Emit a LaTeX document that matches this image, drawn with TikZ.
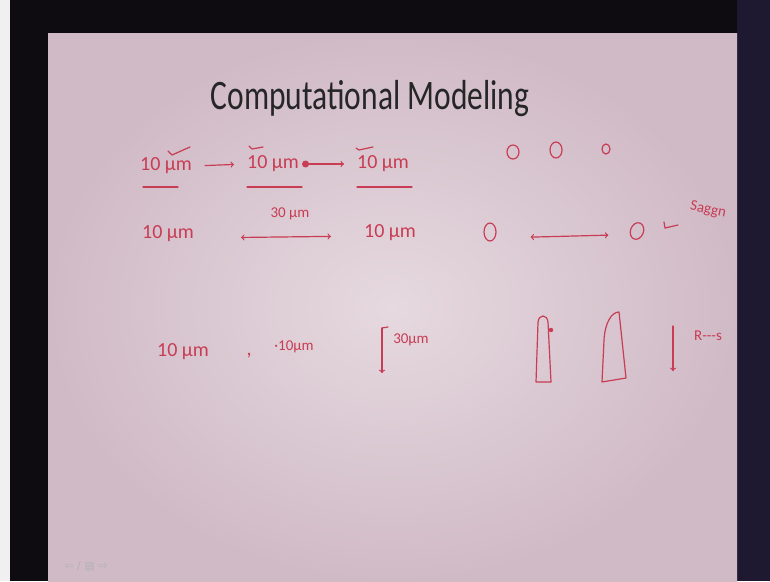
\documentclass[tikz,border=0pt]{standalone}
\usepackage{fontspec}
\setmainfont{Carlito}
\newfontfamily\iconfont{DejaVu Sans}
\usetikzlibrary{arrows,shapes.geometric}
\definecolor{ink}{RGB}{200,60,84}
\definecolor{slide}{RGB}{208,186,198}
\definecolor{slidelight}{RGB}{230,217,223}
\definecolor{frame}{RGB}{14,12,16}
\definecolor{rightedge}{RGB}{30,24,48}
\tikzset{
  hand/.style={text=ink, font=\fontsize{20}{20}\selectfont, inner sep=1pt},
  handsmall/.style={text=ink, font=\fontsize{15}{15}\selectfont, inner sep=1pt},
  pen/.style={draw=ink, line width=1.2pt, line cap=round, line join=round},
  >=to
}
\begin{document}
\begin{tikzpicture}[x=1pt,y=-1pt]
\useasboundingbox (0,0) rectangle (770,581);
% screen and frame
\fill[frame] (0,0) rectangle (770,581);
\fill[white!88!gray] (0,0) rectangle (10,581);
\fill[rightedge] (737,0) rectangle (770,581);
\shade[inner color=slidelight, outer color=slide] (48,33) rectangle (737,581);

\node[text=black!85, xscale=0.75] (title) at (370,99) {\fontsize{42}{42}\selectfont Computational Modeling};

% row 1
\node[hand] (ra) at (166,166) {10 µm};
\node[hand] (rb) at (273,164) {10 µm};
\node[hand] (rc) at (383,164) {10 µm};
\draw[pen,->] (ra.east) -- (rb.west) [shorten <=12pt, shorten >=12pt];
\draw[pen,*->] (rb.east) -- (rc.west) [shorten <=2pt, shorten >=12pt];
\draw[pen] (168,151) -- (172,155) -- (190,147);
\draw[pen] (249,146) -- (252,149) -- (263,147);
\draw[pen] (356,148) -- (359,150) -- (373,147);
\draw[pen] (143,187) -- (178,187);
\draw[pen] (247,187) -- (302,187);
\draw[pen] (357,187) -- (412,187);
\node[pen, ellipse, minimum width=12pt, minimum height=14pt, inner sep=0pt] (oa) at (513,152) {};
\node[pen, ellipse, minimum width=12pt, minimum height=16pt, inner sep=0pt] (ob) at (556,150) {};
\node[pen, ellipse, minimum width=8pt, minimum height=10pt, inner sep=0pt] (oc) at (606,149) {};

% row 2
\node[hand] (rd) at (168,234) {10 µm};
\node[handsmall] (re) at (290,214) {30 µm};
\node[hand] (rf) at (390,233) {10 µm};
\draw[pen,<->] ([yshift=-4pt]rd.east) -- ([yshift=-3pt]rf.west) [shorten <=46pt, shorten >=32pt];
\node[pen, ellipse, minimum width=12pt, minimum height=18pt, inner sep=0pt] (od) at (490,232) {};
\node[pen, ellipse, rotate=-20, minimum width=13pt, minimum height=17pt, inner sep=0pt] (oe) at (637,231) {};
\draw[pen,<->] ([yshift=-6pt]od.east) -- ([yshift=-6pt]oe.west) [shorten <=34pt, shorten >=22pt];
\draw[pen] (664,222) -- (665,228) -- (678,225);
\node[handsmall, rotate=-12] (sag) at (708,210) {Saggn};

% row 3
\node[hand] (rg) at (183,352) {10 µm};
\node[hand] (rh) at (249,356) {,};
\node[handsmall] (ri) at (294,347) {·10µm};
\coordinate (va) at (382,328);
\coordinate (vb) at (382,373);
\draw[pen,->] (va) -- (vb);
\draw[pen] (va) -- (388,327);
\node[handsmall] (rj) at (411,340) {30µm};
\draw[pen] (536,382) -- (538,322) .. controls (539,314) and (547,314) .. (548,322) -- (551,382) -- cycle;
\fill[ink] (551,330) circle (2.2pt);
\draw[pen] (602,382) -- (604,340) .. controls (605,322) and (612,312) .. (619,312) -- (626,378) -- cycle;
\coordinate (vc) at (673,326);
\coordinate (vd) at (673,371);
\draw[pen,->] (vc) -- (vd);
\node[handsmall] (rk) at (708,336) {R-{}-{}-s};

% slide navigation icons
\node[text=gray!60, font=\iconfont\fontsize{11}{11}\selectfont] (nav) at (86,566) {⇦ / ▤ ⇨};
\end{tikzpicture}
\end{document}
